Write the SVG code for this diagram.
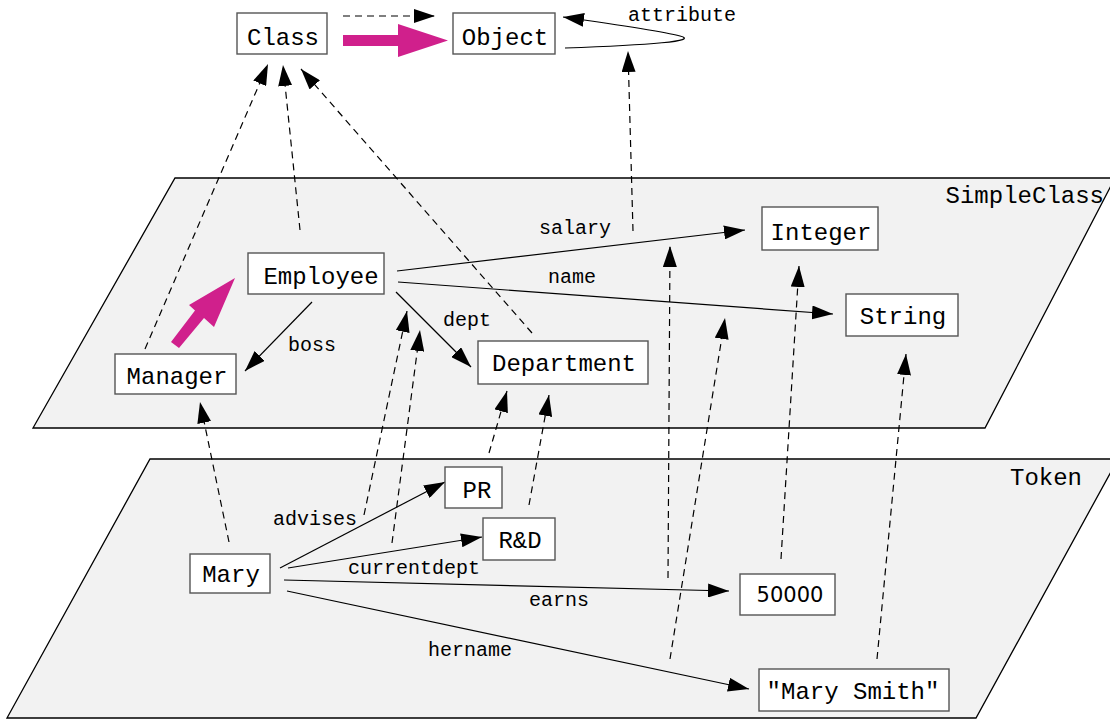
<svg xmlns="http://www.w3.org/2000/svg" width="1110" height="719" viewBox="0 0 1110 719">
<style>
.plane{fill:#f2f2f2;stroke:#000;stroke-width:1.3}
.box{fill:#fff;stroke:#555;stroke-width:1.4}
.nt{font-family:"Liberation Mono","Courier New",monospace;font-size:24px;fill:#000;text-anchor:middle}
.pl{font-family:"Liberation Mono","Courier New",monospace;font-size:24px;fill:#000;text-anchor:end}
.el{font-family:"Liberation Mono","Courier New",monospace;font-size:20px;fill:#000}
.num{font-family:"DejaVu Sans",sans-serif;font-size:21px;fill:#000;text-anchor:middle}
.s{fill:none;stroke:#000;stroke-width:1.2;marker-end:url(#ah)}
.d{fill:none;stroke:#000;stroke-width:1.2;stroke-dasharray:7,5;marker-end:url(#ah)}
.mg{fill:#d0208c;stroke:none}
</style>
<defs>
<marker id="ah" markerUnits="userSpaceOnUse" markerWidth="22" markerHeight="14" refX="21" refY="7" orient="auto">
<path d="M0,0 L21,7 L0,14 z" fill="#000"/>
</marker>
</defs>
<g id="plane-simpleclass">
<polygon class="plane" points="175,178 1115,178 985,428 33,428"/>
<text class="pl" x="1104" y="203">SimpleClass</text>
</g>
<g id="plane-token">
<polygon class="plane" points="150,459 1118,459 976,718 7,718"/>
<text class="pl" x="1082" y="485">Token</text>
</g>
<g id="connectors">
<path class="d" d="M343,16 L435,16"/>
<polygon class="mg" points="343,35 398,35 398,24 448,40.5 398,57 398,46 343,46"/>
<path class="s" d="M565,48 C650,45 700,41 680,36 C665,32 620,25 563,17"/>
<text class="el" x="628" y="21">attribute</text>
<path class="d" d="M145,349 L268,64"/>
<path class="d" d="M300,230 L283,65"/>
<path class="d" d="M532,333 L301,69"/>
<path class="d" d="M633,231 L628,51"/>
<path class="s" d="M397,271 L745,230"/>
<text class="el" x="539" y="234">salary</text>
<path class="s" d="M398,282 L833,314"/>
<text class="el" x="548" y="283">name</text>
<path class="s" d="M396,292 L471,367"/>
<text class="el" x="443" y="326">dept</text>
<path class="s" d="M312,302 L245,371"/>
<text class="el" x="288" y="351">boss</text>
<polygon class="mg" points="171,342 195,310.5 189,305 235,278 214,327 204,318 179,348"/>
<path class="d" d="M229,542 L200,402"/>
<path class="d" d="M364,515 L407,311"/>
<path class="d" d="M392,543 L420,330"/>
<path class="d" d="M489,453 L507,391"/>
<path class="d" d="M529,505 L549,395"/>
<path class="d" d="M668,578 L670,246"/>
<path class="d" d="M670,659 L725,318"/>
<path class="d" d="M781,559 L799,266"/>
<path class="d" d="M877,659 L906,354"/>
<path class="s" d="M280,568 L445,482"/>
<text class="el" x="273" y="525">advises</text>
<path class="s" d="M288,568 L482,537"/>
<text class="el" x="348" y="574">currentdept</text>
<path class="s" d="M284,580 L729,591"/>
<text class="el" x="529" y="606">earns</text>
<path class="s" d="M287,591 L749,689"/>
<text class="el" x="428" y="656">hername</text>
</g>
<g id="node-class">
<rect class="box" x="237" y="13" width="90" height="41"/>
<text class="nt" x="283" y="45">Class</text>
</g>
<g id="node-object">
<rect class="box" x="453" y="13" width="102" height="41"/>
<text class="nt" x="505" y="45">Object</text>
</g>
<g id="node-employee">
<rect class="box" x="248" y="253" width="136" height="41"/>
<text class="nt" x="321" y="284">Employee</text>
</g>
<g id="node-manager">
<rect class="box" x="115" y="354" width="121" height="40"/>
<text class="nt" x="177" y="384">Manager</text>
</g>
<g id="node-department">
<rect class="box" x="478" y="341" width="170" height="43"/>
<text class="nt" x="564" y="371">Department</text>
</g>
<g id="node-integer">
<rect class="box" x="762" y="207" width="116" height="43"/>
<text class="nt" x="821" y="240">Integer</text>
</g>
<g id="node-string">
<rect class="box" x="846" y="294" width="112" height="42"/>
<text class="nt" x="903" y="324">String</text>
</g>
<g id="node-pr">
<rect class="box" x="445" y="467" width="57" height="41"/>
<text class="nt" x="477" y="498">PR</text>
</g>
<g id="node-rd">
<rect class="box" x="483" y="518" width="72" height="42"/>
<text class="nt" x="520" y="548">R&amp;D</text>
</g>
<g id="node-mary">
<rect class="box" x="190" y="554" width="80" height="39"/>
<text class="nt" x="231" y="582">Mary</text>
</g>
<g id="node-50000">
<rect class="box" x="740" y="574" width="95" height="41"/>
<text class="num" x="790" y="602">50000</text>
</g>
<g id="node-marysmith">
<rect class="box" x="759" y="669" width="190" height="42"/>
<text class="nt" x="853" y="699">"Mary Smith"</text>
</g>
</svg>
